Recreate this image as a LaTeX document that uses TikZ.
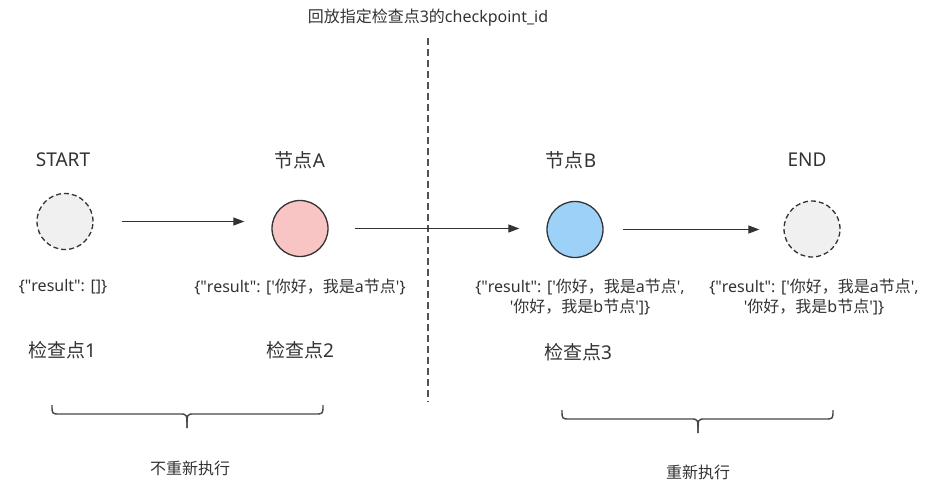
\documentclass[tikz,border=0pt]{standalone}
\usepackage{fontspec}
\setmainfont{Noto Sans}
\newfontfamily\cjk{Noto Sans CJK SC}
\usetikzlibrary{arrows.meta}
\definecolor{ink}{HTML}{333333}
\definecolor{ghost}{HTML}{F0F0F0}
\definecolor{pinkA}{HTML}{F8C4C4}
\definecolor{blueB}{HTML}{9DD1F7}
\newcommand{\sq}{\textquotesingle}
\newcommand{\dq}{\textquotedbl}
\tikzset{
  stateC/.style={circle, minimum size=56pt, inner sep=0pt, draw=ink, line width=1.3pt},
  ghostC/.style={stateC, fill=ghost, dash pattern=on 5pt off 3pt},
  lbl/.style={text=ink, font=\fontsize{19}{22}\selectfont, inner sep=0pt},
  res/.style={text=ink, font=\fontsize{16}{20}\selectfont, align=center, inner sep=0pt},
  note/.style={text=ink, font=\fontsize{16}{19}\selectfont, inner sep=0pt},
  arr/.style={draw=ink, line width=1.2pt, -{Triangle[length=11pt,width=8pt]}},
  brace/.style={draw=ink!90, line width=1.4pt},
}
\begin{document}
\begin{tikzpicture}[x=1pt,y=-1pt]
\useasboundingbox (0,0) rectangle (928,496);
% title and divider
\node[note] (title) at (428,18) {{\cjk 回放指定检查点}3{\cjk 的}checkpoint\_id};
\coordinate (dtop) at (428,38);
\coordinate (dbot) at (428,402);
\draw[draw=ink!85, line width=1.2pt, dash pattern=on 7pt off 4pt] (dtop) -- (dbot);
% nodes
\node[ghostC] (S) at (65,221.5) {};
\node[stateC, fill=pinkA] (A) at (300,228.5) {};
\node[stateC, fill=blueB] (B) at (575,229.5) {};
\node[ghostC] (E) at (812,229) {};
% labels
\node[lbl] (Sl) at (63,160) {START};
\node[lbl] (Al) at (300,160) {{\cjk 节点}A};
\node[lbl] (Bl) at (571,160) {{\cjk 节点}B};
\node[lbl] (El) at (807,160) {END};
% results
\node[res] (Sr) at (63,287) {\{\dq result\dq: []\}};
\node[res] (Ar) at (300,287) {\{\dq result\dq: [\sq{\cjk 你好，我是}a{\cjk 节点}\sq\}};
\node[res] (Br) at (580,297) {\{\dq result\dq: [\sq{\cjk 你好，我是}a{\cjk 节点}\sq,\\\sq{\cjk 你好，我是}b{\cjk 节点}\sq]\}};
\node[res] (Er) at (814,297) {\{\dq result\dq: [\sq{\cjk 你好，我是}a{\cjk 节点}\sq,\\\sq{\cjk 你好，我是}b{\cjk 节点}\sq]\}};
% checkpoints
\node[lbl] (C1) at (62,350) {{\cjk 检查点}1};
\node[lbl] (C2) at (300,350) {{\cjk 检查点}2};
\node[lbl] (C3) at (578,352) {{\cjk 检查点}3};
% arrows
\draw[arr] ([xshift=28pt]S.east) -- ([xshift=-27pt]S.east -| A.west);
\draw[arr] ([xshift=26pt]A.east) -- ([xshift=-27pt]A.east -| B.west);
\draw[arr] ([xshift=19pt]B.east) -- ([xshift=-24pt]B.east -| E.west);
% braces
\draw[brace] (52,405) .. controls (52,414) .. (60,414) -- (180,414) .. controls (187,414) .. (187,428);
\draw[brace] (323,405) .. controls (323,414) .. (315,414) -- (194,414) .. controls (187,414) .. (187,428);
\draw[brace] (562,410) .. controls (562,419) .. (570,419) -- (691,419) .. controls (698,419) .. (698,433);
\draw[brace] (833,410) .. controls (833,419) .. (825,419) -- (705,419) .. controls (698,419) .. (698,433);
\node[note] (L1) at (190,468) {\cjk 不重新执行};
\node[note] (L2) at (698,472) {\cjk 重新执行};
\end{tikzpicture}
\end{document}
